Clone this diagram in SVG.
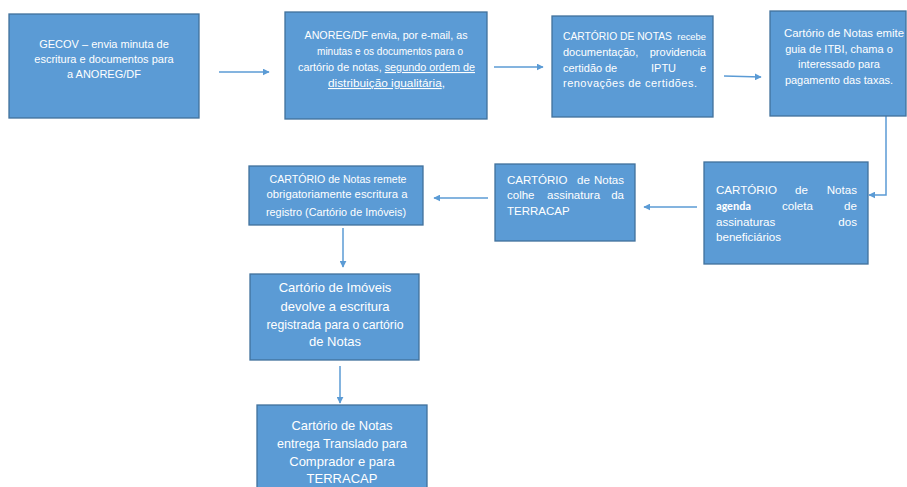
<svg xmlns="http://www.w3.org/2000/svg" width="907" height="487" viewBox="0 0 907 487">
<style>
.box{fill:#5B9BD5;stroke:#41719C;stroke-width:1.3}
text{font-family:"Liberation Sans",Arial,sans-serif;fill:#fff;font-size:11px}
.c{text-anchor:middle}
.e{text-anchor:end}
.m{font-size:11.6px}
.s{font-size:11.5px}
.big{font-size:13px}
.con line,.con polyline{stroke:#5B9BD5;stroke-width:1.5;fill:none;marker-end:url(#ah)}
</style>
<defs>
<marker id="ah" viewBox="0 0 10 10" refX="9" refY="5" markerWidth="7" markerHeight="7" markerUnits="userSpaceOnUse" orient="auto"><path d="M0,0 L10,5 L0,10 z" fill="#5B9BD5"/></marker>
</defs>
<rect width="907" height="487" fill="#fff"/>
<g class="con">
<line x1="219" y1="72" x2="269" y2="72"/>
<line x1="494" y1="67" x2="543" y2="67"/>
<line x1="724" y1="76" x2="761" y2="77"/>
<polyline points="886,116 886,195 869,195"/>
<line x1="697" y1="207" x2="644" y2="207"/>
<line x1="488" y1="198" x2="434" y2="198"/>
<line x1="343" y1="228" x2="343" y2="267"/>
<line x1="340" y1="366" x2="340" y2="403"/>
</g>
<g id="n1"><rect class="box" x="9" y="14" width="190" height="104"/>
<text class="c" x="104" y="48">GECOV – envia minuta de</text>
<text class="c" x="104" y="63">escritura e documentos para</text>
<text class="c" x="104" y="78">a ANOREG/DF</text></g>
<g id="n2"><rect class="box" x="285" y="12" width="202" height="107"/>
<text class="c" x="386" y="39" textLength="163" lengthAdjust="spacingAndGlyphs">ANOREG/DF envia, por e-mail, as</text>
<text class="c" x="390" y="55" textLength="146" lengthAdjust="spacingAndGlyphs">minutas e os documentos para o</text>
<text x="298" y="71" textLength="177" lengthAdjust="spacingAndGlyphs">cartório de notas, <tspan text-decoration="underline">segundo ordem de</tspan></text>
<text x="328" y="87" textLength="117" lengthAdjust="spacingAndGlyphs"><tspan text-decoration="underline">distribuição igualitária</tspan>,</text></g>
<g id="n3"><rect class="box" x="552" y="16" width="161" height="101"/>
<text x="563" y="40" style="font-size:10.3px">CARTÓRIO DE NOTAS</text><text class="e" x="706" y="40" style="font-size:9.4px">recebe</text>
<text x="563" y="56">documentação,</text><text class="e" x="706" y="56">providencia</text>
<text x="563" y="72">certidão</text><text x="605" y="72">de</text><text x="651" y="72">IPTU</text><text class="e" x="706" y="72">e</text>
<text x="563" y="87" textLength="134" lengthAdjust="spacing">renovações de certidões.</text></g>
<g id="n4"><rect class="box" x="770" y="11" width="136" height="105"/>
<text class="c" x="844" y="37" textLength="120" lengthAdjust="spacingAndGlyphs">Cartório de Notas emite</text>
<text class="c" x="839" y="53">guia de ITBI, chama o</text>
<text class="c" x="839" y="68">interessado para</text>
<text class="c" x="839" y="84">pagamento das taxas.</text></g>
<g id="n5"><rect class="box" x="704" y="162" width="164" height="102"/>
<text class="m" x="716" y="194">CARTÓRIO</text><text class="m" x="795" y="194">de</text><text class="m e" x="857" y="194">Notas</text>
<text class="m" x="716" y="210" style="font-weight:bold;font-family:Carlito,'Liberation Sans',sans-serif">agenda</text><text class="m" x="782" y="210">coleta</text><text class="m e" x="857" y="210">de</text>
<text class="m" x="716" y="226">assinaturas</text><text class="m e" x="857" y="226">dos</text>
<text class="m" x="716" y="241">beneficiários</text></g>
<g id="n6"><rect class="box" x="495" y="164" width="140" height="77"/>
<text class="s" x="507" y="184">CARTÓRIO</text><text class="s" x="577" y="184">de</text><text class="s e" x="624" y="184">Notas</text>
<text class="s" x="507" y="199">colhe</text><text class="s" x="547" y="199">assinatura</text><text class="s e" x="624" y="199">da</text>
<text class="s" x="507" y="215">TERRACAP</text></g>
<g id="n7"><rect class="box" x="249" y="166" width="174" height="59"/>
<text class="c" x="338" y="183" textLength="137" lengthAdjust="spacingAndGlyphs">CARTÓRIO de Notas remete</text>
<text class="c" x="337" y="198" textLength="141" lengthAdjust="spacingAndGlyphs">obrigatoriamente escritura a</text>
<text class="c" x="336" y="216" textLength="140" lengthAdjust="spacingAndGlyphs">registro (Cartório de Imóveis)</text></g>
<g id="n8"><rect class="box" x="250" y="274" width="169" height="86"/>
<text class="c big" x="335" y="292">Cartório de Imóveis</text>
<text class="c big" x="335" y="311">devolve a escritura</text>
<text class="c big" x="335" y="329" textLength="137" lengthAdjust="spacingAndGlyphs">registrada para o cartório</text>
<text class="c big" x="335" y="346">de Notas</text></g>
<g id="n9"><rect class="box" x="257" y="405" width="170" height="90"/>
<text class="c big" x="342" y="430" textLength="101" lengthAdjust="spacingAndGlyphs">Cartório de Notas</text>
<text class="c big" x="342" y="448" textLength="130" lengthAdjust="spacingAndGlyphs">entrega Translado para</text>
<text class="c big" x="342" y="466">Comprador e para</text>
<text class="c big" x="342" y="483">TERRACAP</text></g>
</svg>
